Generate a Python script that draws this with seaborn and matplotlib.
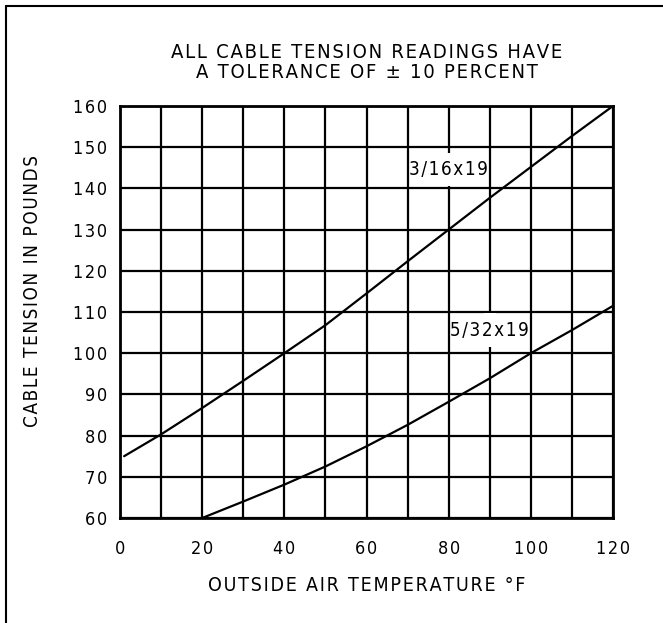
import matplotlib
matplotlib.use("Agg")
import matplotlib.pyplot as plt
import seaborn as sns
import pandas as pd
from matplotlib.patches import Rectangle
from matplotlib.lines import Line2D

# ---- data ----
temp_316 = [1, 10, 20, 30, 40, 50, 60, 70, 80, 90, 100, 110, 120]
tension_316 = [75, 80.3, 86.7, 93.3, 100, 106.8, 114.5, 122.3, 130, 137.7, 145.2, 152.7, 160]
temp_532 = [20, 30, 40, 50, 60, 70, 80, 90, 100, 110, 120]
tension_532 = [60, 64, 68.1, 72.5, 77.4, 82.6, 88.2, 93.9, 100, 105.6, 111.5]
x_ticks = [0, 20, 40, 60, 80, 100, 120]
y_ticks = [60, 70, 80, 90, 100, 110, 120, 130, 140, 150, 160]
labels = ["3/16x19", "5/32x19"]
label_pos = [(80, 144.5), (90, 105.6)]
title_lines = ["ALL CABLE TENSION READINGS HAVE", "A TOLERANCE OF \u00b1 10 PERCENT"]
xlabel = "OUTSIDE AIR TEMPERATURE \u00b0F"
ylabel = "CABLE TENSION IN POUNDS"

sns.set_theme(style="white")
plt.rcParams['font.family'] = ['DejaVu Sans']
plt.rcParams['font.stretch'] = 'condensed'

def spaced(s, sep='\u200a'):
    return sep.join(list(s))

df = pd.concat([
    pd.DataFrame({"temp": temp_316, "tension": tension_316, "cable": labels[0]}),
    pd.DataFrame({"temp": temp_532, "tension": tension_532, "cable": labels[1]}),
])

fig = plt.figure(figsize=(6.63, 6.23), dpi=100)
ax = fig.add_axes([120/663, 1-518/623, (613-120)/663, (518-106)/623])

sns.lineplot(data=df, x="temp", y="tension", units="cable", estimator=None,
             color="black", linewidth=1.6, ax=ax, sort=True, zorder=2)

ax.set_xlim(0, 120)
ax.set_ylim(60, 160)
ax.set_xticks(range(0, 121, 10))
ax.set_yticks(range(60, 161, 10))
ax.set_xticklabels([spaced(str(v)) if v in x_ticks else "" for v in range(0, 121, 10)],
                   fontsize=13, fontstretch='condensed')
ax.set_yticklabels([spaced(str(v)) for v in y_ticks], fontsize=13, fontstretch='condensed')
ax.tick_params(axis='y', length=0, pad=9, colors='black')
ax.tick_params(axis='x', length=0, pad=16, colors='black')
ax.grid(True, color='black', linewidth=1.6)
ax.set_axisbelow(True)
for s in ax.spines.values():
    s.set_color('black')
    s.set_linewidth(2.0)

ax.set_xlabel(spaced(xlabel), fontsize=14, labelpad=13, color='black', fontstretch='condensed')
ax.set_ylabel(spaced(ylabel), fontsize=13.5, color='black', fontstretch='condensed')
ax.yaxis.set_label_coords(-0.158, 0.55)

for lab, (lx, ly) in zip(labels, label_pos):
    ax.add_patch(Rectangle((lx - 1.5, ly - 4.0), 3.0, 8.2, facecolor='white',
                           edgecolor='none', zorder=1))
    ax.text(lx, ly, spaced(lab), ha='center', va='center', fontsize=13.5,
            color='black', zorder=3, fontstretch='condensed')

fig.text(367/663, 1-53/623, spaced(title_lines[0]), ha='center', va='center',
         fontsize=14.5, color='black', fontstretch='condensed')
fig.text(367/663, 1-72/623, spaced(title_lines[1]), ha='center', va='center',
         fontsize=14.5, color='black', fontstretch='condensed')

# figure border (top and left)
fig.add_artist(Line2D([6/663, 1.0], [1-6/623, 1-6/623], transform=fig.transFigure,
                      color='black', linewidth=1.5))
fig.add_artist(Line2D([6/663, 6/663], [0, 1-6/623], transform=fig.transFigure,
                      color='black', linewidth=1.5))

fig.savefig("out.png", dpi=100)
